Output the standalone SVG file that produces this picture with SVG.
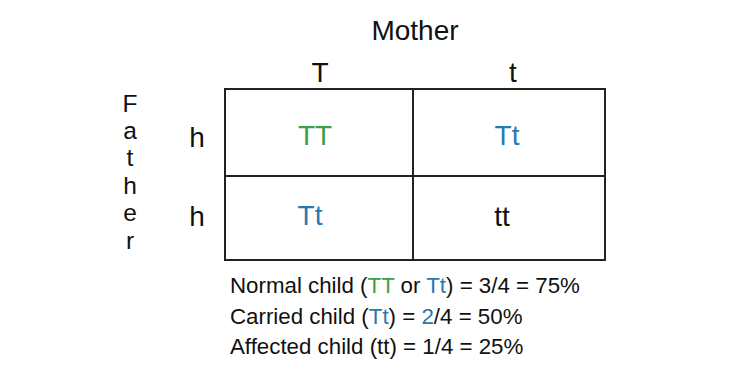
<svg xmlns="http://www.w3.org/2000/svg" width="733" height="365" viewBox="0 0 733 365">
<style>
text{font-family:"Liberation Sans",Arial,sans-serif;fill:#111}
.big{font-size:28px}
.cell{font-size:28px;text-anchor:middle}
.g{fill:#3c9e45}
.b{fill:#2a78b0}
.note{font-size:22.3px}
.grid{fill:none;stroke:#222;stroke-width:2}
</style>
<rect width="733" height="365" fill="#fff"/>
<g id="mother"><text class="big" x="415" y="40" text-anchor="middle">Mother</text></g>
<g id="mother-alleles">
<text class="big" x="320" y="82" text-anchor="middle">T</text>
<text class="big" x="513" y="82" text-anchor="middle">t</text>
</g>
<g id="father" font-size="24.5" text-anchor="middle">
<text x="130" y="112">F</text>
<text x="130" y="139">a</text>
<text x="130" y="166">t</text>
<text x="130" y="194">h</text>
<text x="130" y="221">e</text>
<text x="130" y="249">r</text>
</g>
<g id="father-alleles">
<text class="big" x="197" y="147" text-anchor="middle">h</text>
<text class="big" x="197" y="226" text-anchor="middle">h</text>
</g>
<g id="grid">
<rect class="grid" x="225" y="89" width="380" height="171"/>
<line class="grid" x1="225" y1="176" x2="605" y2="176"/>
<line class="grid" x1="413" y1="89" x2="413" y2="260"/>
</g>
<g id="cell-TT"><text class="cell g" x="315" y="145">TT</text></g>
<g id="cell-Tt1"><text class="cell b" x="507" y="145">Tt</text></g>
<g id="cell-Tt2"><text class="cell b" x="310" y="225">Tt</text></g>
<g id="cell-tt"><text class="cell" x="502" y="226">tt</text></g>
<g id="notes">
<text class="note" x="230" y="293">Normal child (<tspan class="g">TT</tspan> or <tspan class="b">Tt</tspan>) = 3/4 = 75%</text>
<text class="note" x="230" y="324">Carried child (<tspan class="b">Tt</tspan>) = <tspan class="b">2</tspan>/4 = 50%</text>
<text class="note" x="230" y="354">Affected child (tt) = 1/4 = 25%</text>
</g>
</svg>
